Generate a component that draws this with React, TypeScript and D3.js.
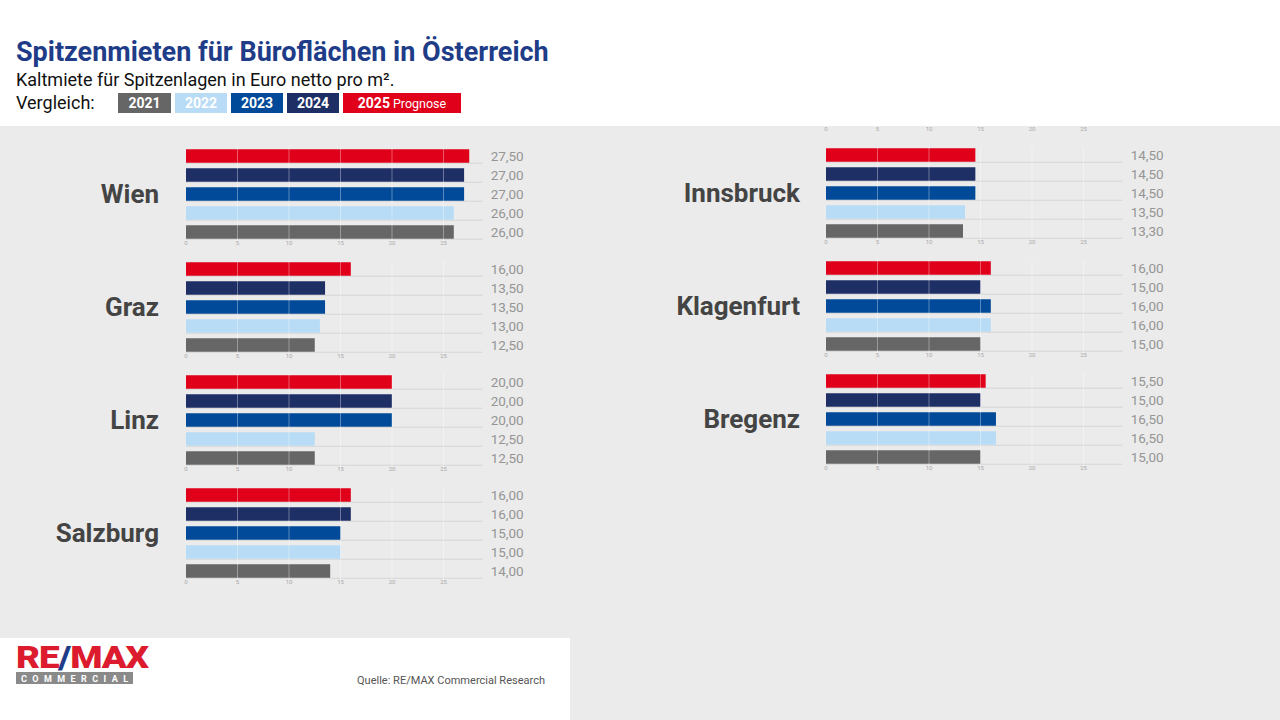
import React from 'react';
import * as d3 from 'd3';

// years, top row first as drawn
const years = ['2025', '2024', '2023', '2022', '2021'];
const yearColors = ['#e1001a', '#1e2f66', '#004a99', '#b8dcf5', '#666666'];

const leftCities = ['Wien', 'Graz', 'Linz', 'Salzburg'];
const rightCities = ['Innsbruck', 'Klagenfurt', 'Bregenz'];

// rents per city, order matches years
const wien = [27.5, 27, 27, 26, 26];
const graz = [16, 13.5, 13.5, 13, 12.5];
const linz = [20, 20, 20, 12.5, 12.5];
const salzburg = [16, 16, 15, 15, 14];
const innsbruck = [14.5, 14.5, 14.5, 13.5, 13.3];
const klagenfurt = [16, 15, 16, 16, 15];
const bregenz = [15.5, 15, 16.5, 16.5, 15];

const axisTicks = [0, 5, 10, 15, 20, 25];
const legendYears = ['2021', '2022', '2023', '2024', '2025'];

const valuesByCity: Record<string, number[]> = {
  Wien: wien, Graz: graz, Linz: linz, Salzburg: salzburg,
  Innsbruck: innsbruck, Klagenfurt: klagenfurt, Bregenz: bregenz,
};

const de = d3.formatLocale({ decimal: ',', thousands: '.', grouping: [3], currency: ['', '€'] });
const fmt = de.format('.2f');

const FONT = 'Roboto, "Noto Sans", sans-serif';

type PanelProps = { city: string; x0: number; top: number; labelX: number; topAxis?: boolean };

const Panel: React.FC<PanelProps> = ({ city, x0, top, labelX, topAxis }) => {
  const vals = valuesByCity[city];
  const x = d3.scaleLinear().domain([0, 25]).range([x0, x0 + 257.5]);
  const y = d3.scaleBand<string>().domain(years).range([top, top + 95])
    .paddingInner(0.29).paddingOuter(0.145);
  const lineEnd = x(28.8);
  const axisY = top + 98.5;
  return (
    <g>
      {years.map((yr) => (
        <line key={'b' + yr} x1={x0} x2={lineEnd} y1={y(yr)! + y.bandwidth() + 0.5} y2={y(yr)! + y.bandwidth() + 0.5}
          stroke="#d6d6d6" strokeWidth={1} />
      ))}
      {years.map((yr, i) => (
        <rect key={yr} x={x(0)} y={y(yr)} width={x(vals[i]) - x(0)} height={y.bandwidth()} fill={yearColors[i]} />
      ))}
      {axisTicks.filter((t) => t > 0).map((t) => (
        <line key={'g' + t} x1={x(t)} x2={x(t)} y1={top + 1} y2={top + 95} stroke="#ffffff" strokeOpacity={0.35} strokeWidth={1} />
      ))}
      {years.map((yr, i) => (
        <text key={'v' + yr} x={lineEnd + 8} y={y(yr)! + y.bandwidth() / 2 + 5} fontSize={13.5}
          fill="#959595" fontFamily={FONT}>{fmt(vals[i])}</text>
      ))}
      {axisTicks.map((t) => (
        <text key={'t' + t} x={x(t)} y={axisY} fontSize={6} fill="#aaaaaa" textAnchor="middle" fontFamily={FONT}>{t}</text>
      ))}
      {topAxis && axisTicks.map((t) => (
        <text key={'tt' + t} x={x(t)} y={top - 15} fontSize={6} fill="#aaaaaa" textAnchor="middle" fontFamily={FONT}>{t}</text>
      ))}
      <text x={labelX} y={y(years[2])! + y.bandwidth() / 2 + 9} fontSize={26} fontWeight="bold" fill="#444444"
        textAnchor="end" fontFamily={FONT}>{city}</text>
    </g>
  );
};

const legendX = d3.scaleOrdinal<string, number>().domain(legendYears).range([118, 175, 231, 287, 343]);
const legendW = d3.scaleOrdinal<string, number>().domain(legendYears).range([53, 52, 52, 52, 118]);
const legendFill = d3.scaleOrdinal<string, string>().domain(legendYears).range(['#666666', '#b8dcf5', '#004a99', '#1e2f66', '#e1001a']);

const App: React.FC = () => {
  return (
    <svg width={1280} height={720} style={{ position: 'absolute', left: 0, top: 0 }} fontFamily={FONT}>
      <rect x={0} y={0} width={1280} height={720} fill="#ffffff" />
      <rect x={0} y={126} width={1280} height={594} fill="#ebebeb" />
      <rect x={0} y={638} width={570} height={82} fill="#ffffff" />

      <text x={16} y={61} fontSize={27} fontWeight="bold" fill="#1f3c88">Spitzenmieten für Büroflächen in Österreich</text>
      <text x={16} y={86} fontSize={18} fill="#111111">Kaltmiete für Spitzenlagen in Euro netto pro m².</text>
      <text x={16} y={109} fontSize={18} fill="#111111">Vergleich:</text>
      {legendYears.map((yr) => (
        <g key={yr}>
          <rect x={legendX(yr)} y={93} width={legendW(yr)} height={20} fill={legendFill(yr)} />
          {yr === '2025' ? (
            <text x={legendX(yr) + 59} y={108} fontSize={14} fill="#ffffff" textAnchor="middle">
              <tspan fontWeight="bold">2025</tspan>
              <tspan fontSize={12.5} dx={3}>Prognose</tspan>
            </text>
          ) : (
            <text x={legendX(yr) + legendW(yr) / 2} y={108} fontSize={14} fontWeight="bold" fill="#ffffff" textAnchor="middle">{yr}</text>
          )}
        </g>
      ))}

      {leftCities.map((c, i) => (
        <Panel key={c} city={c} x0={186} top={146.5 + i * 113} labelX={159} />
      ))}
      {rightCities.map((c, i) => (
        <Panel key={c} city={c} x0={826} top={145.5 + i * 113} labelX={800} topAxis={i === 0} />
      ))}

      <text x={16} y={668} fontSize={32} fontWeight="900" fill="#dc1c2e" letterSpacing={-1} textLength={132} lengthAdjust="spacingAndGlyphs">
        RE<tspan fill="#1f3c88">/</tspan>MAX
      </text>
      <rect x={16} y={672} width={117} height={12} fill="#8a8a8a" />
      <text x={21} y={681.5} fontSize={9} fontWeight="bold" fill="#ffffff" textLength={107} lengthAdjust="spacing">COMMERCIAL</text>
      <text x={357} y={684} fontSize={11} fill="#555555" textLength={188} lengthAdjust="spacingAndGlyphs">Quelle: RE/MAX Commercial Research</text>
    </svg>
  );
};

export default App;
